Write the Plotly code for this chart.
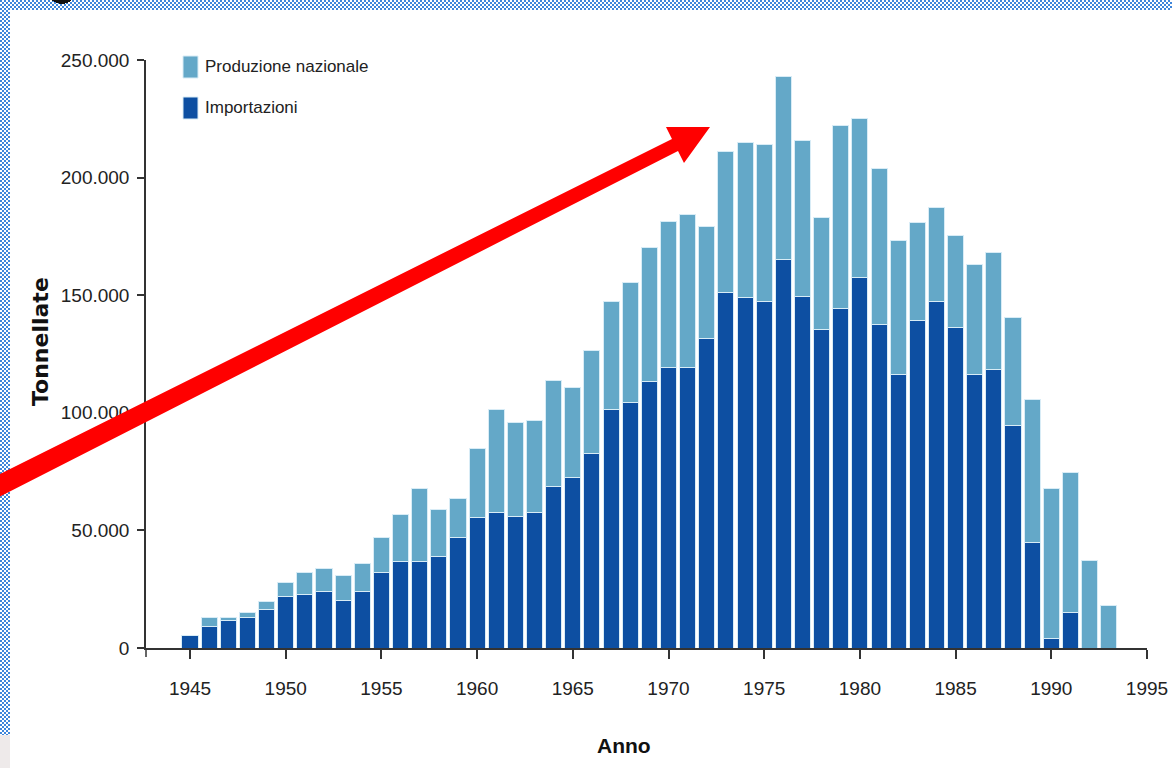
import base64
import plotly.graph_objects as go

# values (tonnes per year)
anni = list(range(1945, 1994))
importazioni = [
    5500, 9200, 11600, 13000, 16200, 22000, 22700, 24200, 20400, 24200,
    32300, 36800, 36800, 39000, 47000, 55400, 57500, 56100, 57500, 68600,
    72400, 82700, 101400, 104300, 113200, 119200, 119200, 131800, 151000, 148900,
    147300, 165200, 149600, 135600, 144400, 157700, 137700, 116300, 139100, 147300,
    136300, 116300, 118400, 94600, 44900, 4200, 15100, 0, 0,
]
produzione = [
    0, 3800, 1400, 2300, 3600, 5900, 9500, 9500, 10300, 11800,
    14700, 20000, 31100, 19900, 16500, 29500, 43700, 39900, 39300, 45300,
    38500, 43800, 45900, 51100, 57100, 62100, 65100, 47400, 60200, 66000,
    66800, 77900, 66000, 47400, 77700, 67600, 66200, 56900, 41600, 40000,
    39200, 46600, 49600, 46000, 60800, 63600, 59400, 37400, 18000,
]
y_ticks = [0, 50000, 100000, 150000, 200000, 250000]
y_labels = ['0', '50.000', '100.000', '150.000', '200.000', '250.000']
x_ticks = list(range(1945, 2000, 5))

COL_IMP = '#0d4fa2'
COL_PROD = '#64a8c8'
EDGE = '#d8ecf6'
FONT = 'Liberation Sans Narrow, Arial Narrow, Liberation Sans, Arial, sans-serif'

W, H = 1172, 768
L, R, T, B = 146, 25, 60, 120
PW, PH = W - L - R, H - T - B


def px(x):
    return (x - L) / PW


def py(y):
    return (H - B - y) / PH


fig = go.Figure()
fig.add_trace(go.Bar(x=anni, y=importazioni, name='Importazioni', width=0.84,
                     marker=dict(color=COL_IMP, line=dict(color=EDGE, width=1)),
                     showlegend=False))
fig.add_trace(go.Bar(x=anni, y=produzione, name='Produzione nazionale', width=0.84,
                     marker=dict(color=COL_PROD, line=dict(color=EDGE, width=1)),
                     showlegend=False))

tick_font = dict(family=FONT, size=19, color='#222')

fig.update_layout(
    template='none',
    width=W, height=H,
    margin=dict(l=L, r=R, t=T, b=B, autoexpand=False),
    barmode='stack',
    paper_bgcolor='white', plot_bgcolor='white',
    xaxis=dict(range=[1942.7, 1995], tickvals=x_ticks, ticks='outside', ticklen=9,
               tickwidth=1.5, tickcolor='#333', showline=True, linecolor='#333',
               linewidth=1.5, showgrid=False, zeroline=False, tickfont=tick_font,
               ticklabelstandoff=13, automargin=False),
    yaxis=dict(range=[0, 250000], tickvals=y_ticks, ticktext=y_labels, ticks='outside',
               ticklen=7, tickwidth=1.5, tickcolor='#333', showline=True, linecolor='#333',
               linewidth=1.5, showgrid=False, zeroline=False, tickfont=tick_font,
               ticklabelstandoff=4, automargin=False),
)

# legend drawn by hand (tall swatches like the original)
legend_items = [('Produzione nazionale', COL_PROD, 56, 78), ('Importazioni', COL_IMP, 97, 119)]
for label, col, y0, y1 in legend_items:
    fig.add_shape(type='rect', xref='paper', yref='paper', x0=px(183), x1=px(198),
                  y0=py(y1), y1=py(y0), fillcolor=col, line=dict(color=EDGE, width=1))
    fig.add_annotation(xref='paper', yref='paper', x=px(203), y=py((y0 + y1) / 2),
                       text=label, showarrow=False, xanchor='left', yanchor='middle',
                       font=dict(family=FONT, size=17, color='#222'))

# axis titles
fig.add_annotation(xref='paper', yref='paper', x=px(40), y=py(342), text='<b>Tonnellate</b>',
                   textangle=-90, showarrow=False, xanchor='center', yanchor='middle',
                   font=dict(family='DejaVu Sans, Verdana, sans-serif', size=22, color='#111'))
fig.add_annotation(xref='paper', yref='paper', x=px(624), y=py(745), text='<b>Anno</b>',
                   showarrow=False, xanchor='center', yanchor='middle',
                   font=dict(family=FONT, size=21, color='#111'))

# small extension of the y axis below the baseline
fig.add_shape(type='line', xref='paper', yref='paper', x0=0, x1=0, y0=0, y1=py(657),
              line=dict(color='#333', width=1.5))

# red arrow
arrow_pts = [(-3, 475.5), (672, 139), (666, 127), (710, 127), (684, 163), (678, 151), (-3, 498)]
path = 'M ' + ' L '.join(f'{px(x):.5f},{py(y):.5f}' for x, y in arrow_pts) + ' Z'
fig.add_shape(type='path', xref='paper', yref='paper', path=path,
              fillcolor='#ff0000', line=dict(width=0), layer='above')

# checkered slide border around the screenshot
svg = (
    f"<svg xmlns='http://www.w3.org/2000/svg' width='{W}' height='{H}' shape-rendering='crispEdges'>"
    "<defs><pattern id='c' width='4' height='4' patternUnits='userSpaceOnUse'>"
    "<rect width='4' height='4' fill='#ffffff'/>"
    "<rect width='2' height='2' fill='#3f86da'/>"
    "<rect x='2' y='2' width='2' height='2' fill='#3f86da'/></pattern></defs>"
    f"<rect width='{W}' height='10' fill='url(#c)'/>"
    "<rect y='10' width='10' height='725' fill='url(#c)'/>"
    f"<rect y='735' width='10' height='{H - 735}' fill='#eeeaea'/>"
    "<ellipse cx='62' cy='-5' rx='12' ry='9' fill='#111'/>"
    "</svg>"
)
src = 'data:image/svg+xml;base64,' + base64.b64encode(svg.encode()).decode()
fig.add_layout_image(source=src, xref='paper', yref='paper', x=px(0), y=py(0),
                     sizex=W / PW, sizey=H / PH, xanchor='left', yanchor='top',
                     sizing='stretch', layer='above')

fig.write_html('out.html', config={'displayModeBar': False},
               post_script="document.body.style.margin='0px';"
               "document.body.style.overflow='hidden';")
